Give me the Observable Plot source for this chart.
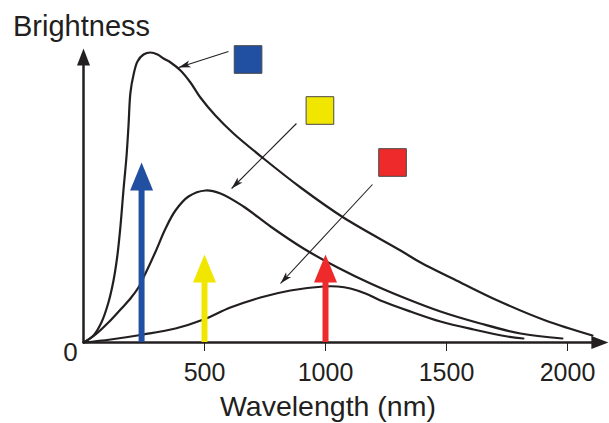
<!DOCTYPE html>
<html>
<head>
<meta charset="utf-8">
<script src="https://cdn.jsdelivr.net/npm/d3@7"></script>
<script src="https://cdn.jsdelivr.net/npm/@observablehq/plot@0.6"></script>
<style>
  html, body { margin: 0; padding: 0; background: #fff; }
  #chart svg { display: block; }
</style>
</head>
<body>
<div id="chart"></div>
<script>
// Blackbody curves: wavelength (nm) and relative brightness
const blueWavelength   = [0, 41, 74, 103, 124, 140, 153, 165, 178, 186, 194, 207, 223, 248, 277, 306, 331, 360, 401, 442, 483, 545, 620, 744, 897, 1074, 1310, 1393, 1558, 1711, 1909, 2103];
const blueBrightness   = [0, 7, 20, 40, 62, 87, 117, 152, 187, 217, 250, 268, 281, 288, 290, 288, 284, 280, 272, 260, 245, 227, 209, 184, 155, 125, 92, 80, 60, 42, 22, 7];

const yellowWavelength = [0, 50, 103, 153, 194, 227, 256, 298, 339, 380, 434, 504, 566, 661, 773, 909, 1050, 1186, 1322, 1475, 1640, 1806, 1979];
const yellowBrightness = [0, 8, 20, 33, 44, 55, 69, 91, 114, 132, 146, 152, 149, 136, 116, 94, 75, 59, 45, 31, 19, 9, 4];

const redWavelength    = [0, 112, 248, 380, 496, 607, 731, 855, 992, 1050, 1103, 1165, 1227, 1351, 1475, 1612, 1752, 1818];
const redBrightness    = [0, 3, 8, 14, 23, 35, 45, 52, 56, 56, 54, 49, 42, 31, 21, 13, 6, 4];

// Peak-wavelength arrows
const peakNames       = ["blue", "yellow", "red"];
const peakWavelengths = [240, 500, 1000];
const peakHeights     = [180, 88, 88];
const peakColors      = ["#214fa1", "#f1e600", "#ee2a2a"];

// Colour swatches and the pointers from each swatch to its curve
const swatchWavelengths = [680, 977, 1277];
const swatchBrightness  = [283, 232, 180];
const pointerFromX = [599, 880, 1194];
const pointerFromY = [291, 219, 158];
const pointerToX   = [393, 612, 814];
const pointerToY   = [275, 154, 59];

// Axes
const xTicks = [500, 1000, 1500, 2000];
const xDomain = [0, 2000];
const yDomain = [0, 300];
const xAxisEnd = 2169;
const yAxisEnd = 294;
const xLabel = "Wavelength (nm)";
const yLabel = "Brightness";
const originLabel = "0";

const ink = "#231f20";

// Layout
const width = 609, height = 423;
const margin = {top: 42, right: 42, bottom: 81, left: 83};
const pxPerX = (width - margin.left - margin.right) / (xDomain[1] - xDomain[0]);
const pxPerY = (height - margin.top - margin.bottom) / (yDomain[1] - yDomain[0]);

const toRows = (xs, ys) => xs.map((x, i) => ({x, y: ys[i]}));
const curves = [
  {name: "blue", rows: toRows(blueWavelength, blueBrightness)},
  {name: "yellow", rows: toRows(yellowWavelength, yellowBrightness)},
  {name: "red", rows: toRows(redWavelength, redBrightness)}
].flatMap(c => c.rows.map(r => ({...r, curve: c.name})));

const peaks = peakNames.map((name, i) => ({
  name, x: peakWavelengths[i], y: peakHeights[i], color: peakColors[i]
}));
const swatches = peakNames.map((name, i) => ({
  name, x: swatchWavelengths[i], y: swatchBrightness[i], color: peakColors[i]
}));
// direction of each pointer on screen, in degrees clockwise from "up"
const pointers = peakNames.map((name, i) => {
  const ux = (pointerToX[i] - pointerFromX[i]) * pxPerX;
  const uy = -(pointerToY[i] - pointerFromY[i]) * pxPerY;
  return {
    x1: pointerFromX[i], y1: pointerFromY[i], x2: pointerToX[i], y2: pointerToY[i],
    angle: Math.atan2(ux, -uy) * 180 / Math.PI
  };
});

// Filled arrowhead with its tip at the anchor point, pointing up
const arrowHead = (w, h, notch = 0) => ({
  draw(ctx) {
    ctx.moveTo(0, 0);
    ctx.lineTo(w / 2, h);
    if (notch) ctx.lineTo(0, h - notch);
    ctx.lineTo(-w / 2, h);
    ctx.closePath();
  }
});

const axisHeads = [
  {x: 0, y: yAxisEnd, angle: 0},
  {x: xAxisEnd, y: 0, angle: 90}
];

const font = "'Liberation Sans', Arial, Helvetica, sans-serif";

const chart = Plot.plot({
  width,
  height,
  marginLeft: margin.left,
  marginRight: margin.right,
  marginTop: margin.top,
  marginBottom: margin.bottom,
  style: {fontFamily: font, fontSize: "25px", color: ink, background: "#fff", overflow: "visible"},
  x: {domain: xDomain, ticks: xTicks, tickSize: 9, tickPadding: 12, tickFormat: d => String(d), label: null},
  y: {domain: yDomain, axis: null},
  color: {type: "identity"},
  marks: [
    // axis lines with arrowheads
    Plot.ruleX([0], {y1: yAxisEnd, y2: 0, stroke: ink, strokeWidth: 2.5, insetTop: 8}),
    Plot.ruleY([0], {x1: 0, x2: xAxisEnd, stroke: ink, strokeWidth: 2.7, insetRight: 8}),
    Plot.dot(axisHeads, {x: "x", y: "y", rotate: "angle", symbol: arrowHead(13, 17), r: 1, fill: ink, stroke: "none"}),

    // blackbody curves
    Plot.line(curves, {x: "x", y: "y", z: "curve", stroke: ink, strokeWidth: 2.2, curve: "catmull-rom"}),

    // peak wavelength arrows
    Plot.ruleX(peaks, {x: "x", y1: "y", y2: 0, stroke: "color", strokeWidth: 6, insetTop: 18}),
    Plot.dot(peaks, {x: "x", y: "y", symbol: arrowHead(23, 28), r: 1, fill: "color", stroke: "none"}),

    // pointers and colour swatches
    Plot.link(pointers, {x1: "x1", y1: "y1", x2: "x2", y2: "y2", stroke: ink, strokeWidth: 1.1}),
    Plot.dot(pointers, {x: "x2", y: "y2", rotate: "angle", symbol: arrowHead(7, 12, 3), r: 1, fill: ink, stroke: "none"}),
    Plot.dot(swatches, {x: "x", y: "y", symbol: "square", r: 15.6, fill: "color", stroke: "#4a4a4a", strokeWidth: 1}),

    // labels
    Plot.text([yLabel], {x: 0, y: yAxisEnd, text: d => d, dx: -2, dy: -13, lineAnchor: "bottom", textAnchor: "middle", fontSize: 29, fill: ink}),
    Plot.text([xLabel], {x: 1010, y: 0, text: d => d, dy: 73, lineAnchor: "bottom", textAnchor: "middle", fontSize: 28.5, fill: ink}),
    Plot.text([originLabel], {x: 0, y: 0, text: d => d, dx: -13, dy: 10, lineAnchor: "middle", textAnchor: "middle", fontSize: 26, fill: ink})
  ]
});

document.getElementById("chart").append(chart);
</script>
</body>
</html>
